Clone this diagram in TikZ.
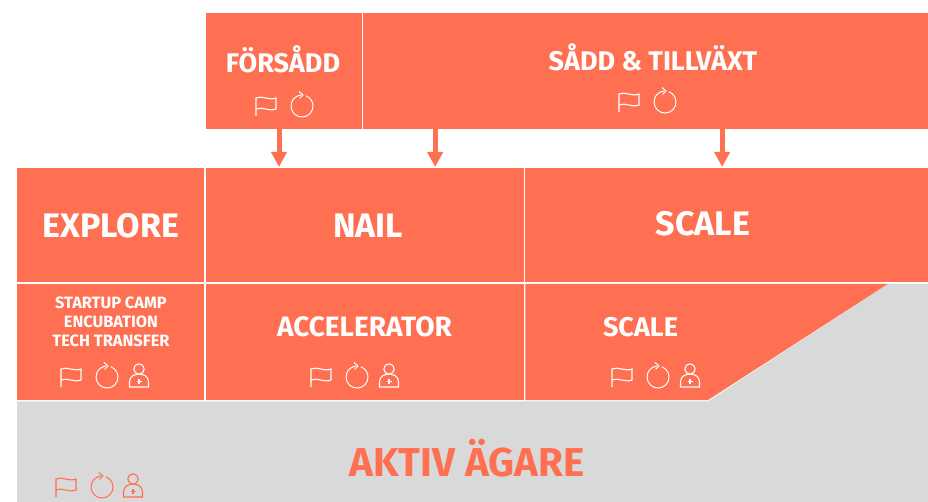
\documentclass[tikz,border=0pt]{standalone}
\usepackage{fontspec}
\setmainfont{Fira Sans}
\usetikzlibrary{arrows.meta, positioning}
\definecolor{coral}{RGB}{255,111,82}
\definecolor{ownergray}{RGB}{217,217,217}
\tikzset{
  flagicon/.pic={
    \draw[line width=1.1pt, pic actions] (-46,10) -- (-46,-8) .. controls (-40,-11) and (-33,-5) .. (-26,-8) -- (-26,3) .. controls (-33,6) and (-40,0) .. (-46,3);
  },
  cycleicon/.pic={
    \draw[line width=1pt, pic actions] (3.8,-10.3) arc (-70:265:11);
    \draw[line width=1pt, pic actions] (-3,-14.5) -- (1,-11) -- (-2.5,-7.5);
  },
  personicon/.pic={
    \draw[line width=1.1pt, pic actions] (0,-8) circle (5.2);
    \draw[line width=1.1pt, pic actions] (-9.5,10) -- (-9.5,5) .. controls (-9.5,-1) and (-4,-3) .. (0,-3) .. controls (4,-3) and (9.5,-1) .. (9.5,5) -- (9.5,10) -- cycle;
    \draw[line width=1.1pt, pic actions] (-2.5,4.5) -- (2.5,4.5) (0,2) -- (0,7);
  }
}
\begin{document}
\begin{tikzpicture}[
    x=1pt, y=-1pt,
    node distance=1.3pt,
    cell/.style={rectangle, fill=coral, inner sep=0pt, outer sep=0pt, anchor=north west},
    title/.style={text=white, inner sep=0pt, font=\bfseries\fontsize{34}{34}\selectfont},
    head/.style={text=white, inner sep=0pt, font=\bfseries\fontsize{27}{27}\selectfont},
    tiny/.style={text=white, inner sep=0pt, align=center, font=\bfseries\fontsize{16.4}{19}\selectfont},
    arrow/.style={-{Triangle[width=15pt, length=15pt]}, line width=5pt, draw=coral, shorten >=1pt}
  ]
  \useasboundingbox (0,0) rectangle (928,502);

  % owner area
  \fill[ownergray] (17,401.3) -- (708,401.3) -- (888,283.8) -- (928,283.8) -- (928,502) -- (17,502) -- cycle;

  % top row
  \node[cell, minimum width=156.5pt, minimum height=116pt] at (205.5,13) (forsadd) {};
  \node[cell, minimum width=564.7pt, minimum height=116pt, right=of forsadd.north east, anchor=north west] (sadd) {};

  % middle row
  \node[cell, minimum width=187.4pt, minimum height=114.5pt] at (17,168) (explore) {};
  \node[cell, minimum width=318.3pt, minimum height=114.5pt, right=of explore.north east, anchor=north west] (nail) {};
  \node[cell, minimum width=402.7pt, minimum height=114.5pt, right=of nail.north east, anchor=north west] (scale) {};

  % lower row
  \node[cell, minimum width=187.4pt, minimum height=116.2pt, below=of explore.south west, anchor=north west] (camp) {};
  \node[cell, minimum width=318.3pt, minimum height=116.2pt, right=of camp.north east, anchor=north west] (accel) {};
  \fill[coral] ([xshift=1.3pt]accel.north east) -- (888,283.8) -- (708,400) -- ([xshift=1.3pt]accel.south east) -- cycle;

  % labels
  \node[head] at (283,59) (forsaddlab) {FÖRSÅDD};
  \node[head] at (653,57) (saddlab) {SÅDD \& TILLVÄXT};
  \node[title] at (111,226) (explorelab) {EXPLORE};
  \node[title] at (368,226) (naillab) {NAIL};
  \node[title] at (703,224) (scalelab) {SCALE};
  \node[tiny] at (111,322) (camplab) {STARTUP CAMP\\ENCUBATION\\TECH TRANSFER};
  \node[head, font=\bfseries\fontsize{28}{28}\selectfont] at (364.5,327) (accellab) {ACCELERATOR};
  \node[head] at (640.5,327) (scalelowlab) {SCALE};
  \node[text=coral, inner sep=0pt, font=\bfseries\fontsize{40.3}{40}\selectfont] at (467,458) (ownerlab) {AKTIV ÄGARE};

  % icons
  \foreach \x/\y in {302/106, 665/102} {
    \pic[draw=white] at (\x,\y) {flagicon};
    \pic[draw=white] at (\x,\y) {cycleicon};
  }
  \foreach \x/\y/\p in {107/377/139, 357/377/389, 658/377/690} {
    \pic[draw=white] at (\x,\y) {flagicon};
    \pic[draw=white] at (\x,\y) {cycleicon};
    \pic[draw=white] at (\p,\y) {personicon};
  }
  \pic[draw=coral] at (102,487) {flagicon};
  \pic[draw=coral] at (102,487) {cycleicon};
  \pic[draw=coral] at (133,487) {personicon};

  % arrows
  \coordinate (firstdrop) at ([xshift=-4.75pt]forsadd.south);
  \coordinate (seconddrop) at ([xshift=-210.5pt]sadd.south);
  \coordinate (thirddrop) at ([xshift=76.5pt]sadd.south);
  \draw[arrow] (firstdrop) -- (firstdrop |- nail.north);
  \draw[arrow] (seconddrop) -- (seconddrop |- nail.north);
  \draw[arrow] (thirddrop) -- (thirddrop |- scale.north);
\end{tikzpicture}
\end{document}
